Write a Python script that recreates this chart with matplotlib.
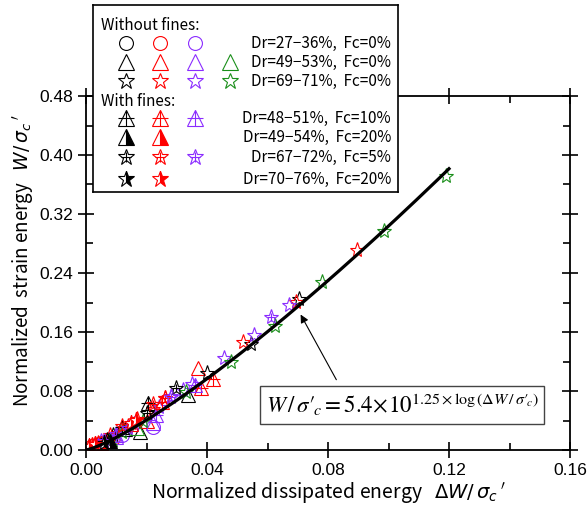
import matplotlib.pyplot as plt
import numpy as np
from matplotlib.ticker import MultipleLocator

# ---- data ----
# open circles, Dr=27-36%, Fc=0%
circ_black_x = [0.003, 0.006]
circ_black_y = [0.004, 0.009]
circ_red_x = [0.002, 0.005, 0.009]
circ_red_y = [0.006, 0.010, 0.016]
circ_purple_x = [0.004, 0.012, 0.022]
circ_purple_y = [0.006, 0.020, 0.031]

# open triangles, Dr=49-53%, Fc=0%
tri_black_x = [0.004, 0.013, 0.018, 0.0336]
tri_black_y = [0.006, 0.028, 0.024, 0.075]
tri_red_x = [0.002, 0.006, 0.020, 0.037]
tri_red_y = [0.005, 0.012, 0.040, 0.111]
tri_purple_x = [0.004, 0.010, 0.022]
tri_purple_y = [0.007, 0.018, 0.036]
tri_green_x = [0.008, 0.017]
tri_green_y = [0.015, 0.030]

# open stars, Dr=69-71%, Fc=0%
star_black_x = [0.002, 0.009, 0.040, 0.0545, 0.0705]
star_black_y = [0.003, 0.020, 0.105, 0.144, 0.205]
star_red_x = [0.003, 0.008, 0.014, 0.022, 0.026, 0.052, 0.0695, 0.0895]
star_red_y = [0.008, 0.020, 0.033, 0.055, 0.070, 0.146, 0.201, 0.271]
star_purple_x = [0.002, 0.005, 0.010, 0.016, 0.024, 0.028, 0.032, 0.035,
                 0.0455, 0.0555, 0.067]
star_purple_y = [0.004, 0.012, 0.022, 0.035, 0.058, 0.073, 0.082, 0.090,
                 0.125, 0.156, 0.196]
star_green_x = [0.005, 0.012, 0.019, 0.033, 0.048, 0.0625, 0.078, 0.0985, 0.119]
star_green_y = [0.008, 0.025, 0.040, 0.078, 0.119, 0.168, 0.228, 0.297, 0.372]

# triangle with cross, Dr=48-51%, Fc=10%
tcr_black_x = [0.003, 0.012, 0.0206]
tcr_black_y = [0.007, 0.031, 0.064]
tcr_red_x = [0.002, 0.006, 0.015, 0.025, 0.038, 0.042]
tcr_red_y = [0.006, 0.012, 0.035, 0.065, 0.084, 0.096]
tcr_purple_x = [0.004, 0.010, 0.023, 0.036]
tcr_purple_y = [0.008, 0.020, 0.048, 0.088]

# half filled triangle, Dr=49-54%, Fc=20%
thf_black_x = [0.003, 0.008]
thf_black_y = [0.006, 0.012]
thf_red_x = [0.001, 0.002, 0.005]
thf_red_y = [0.003, 0.008, 0.010]

# star with cross, Dr=67-72%, Fc=5%
scr_black_x = [0.007, 0.020, 0.0296]
scr_black_y = [0.013, 0.050, 0.084]
scr_red_x = [0.004, 0.012, 0.017, 0.022, 0.026]
scr_red_y = [0.010, 0.032, 0.042, 0.063, 0.071]
scr_purple_x = [0.006, 0.014, 0.028, 0.061]
scr_purple_y = [0.012, 0.030, 0.072, 0.180]

# half filled star, Dr=70-76%, Fc=20%
shf_black_x = [0.001, 0.006]
shf_black_y = [0.004, 0.010]
shf_red_x = [0.001, 0.003, 0.015, 0.0166]
shf_red_y = [0.006, 0.008, 0.037, 0.041]

# fitted curve W = 5.4 * 10^(1.25 log dW)
fit_a = 5.4
fit_b = 1.25
fit_xmax = 0.12

BLACK = 'black'
RED = '#ff0000'
PURPLE = '#8b2cff'
GREEN = '#1a8f1a'

ms = 10
lw = 0.8

fig = plt.figure(figsize=(5.87, 5.12), dpi=100)
ax = fig.add_axes([86 / 587, 62 / 512, 484 / 587, 354 / 512])


def open_pts(a, x, y, marker, color, size=ms):
    a.plot(x, y, linestyle='none', marker=marker, markersize=size,
           markerfacecolor='none', markeredgecolor=color, markeredgewidth=lw)


def cross_pts(a, x, y, marker, color, size=ms, csize=None):
    open_pts(a, x, y, marker, color, size)
    a.plot(x, y, linestyle='none', marker='+', markersize=csize or size,
           markeredgecolor=color, markeredgewidth=lw)


def half_pts(a, x, y, marker, color, size=ms):
    a.plot(x, y, linestyle='none', marker=marker, markersize=size,
           fillstyle='right', markerfacecolor=color, markerfacecoloralt='white',
           markeredgecolor=color, markeredgewidth=lw)


open_pts(ax, circ_black_x, circ_black_y, 'o', BLACK)
open_pts(ax, circ_red_x, circ_red_y, 'o', RED)
open_pts(ax, circ_purple_x, circ_purple_y, 'o', PURPLE)
open_pts(ax, tri_black_x, tri_black_y, '^', BLACK)
open_pts(ax, tri_red_x, tri_red_y, '^', RED)
open_pts(ax, tri_purple_x, tri_purple_y, '^', PURPLE)
open_pts(ax, tri_green_x, tri_green_y, '^', GREEN)
open_pts(ax, star_black_x, star_black_y, '*', BLACK, 11)
open_pts(ax, star_red_x, star_red_y, '*', RED, 11)
open_pts(ax, star_purple_x, star_purple_y, '*', PURPLE, 11)
open_pts(ax, star_green_x, star_green_y, '*', GREEN, 11)
cross_pts(ax, tcr_black_x, tcr_black_y, '^', BLACK)
cross_pts(ax, tcr_red_x, tcr_red_y, '^', RED)
cross_pts(ax, tcr_purple_x, tcr_purple_y, '^', PURPLE)
half_pts(ax, thf_black_x, thf_black_y, '^', BLACK)
half_pts(ax, thf_red_x, thf_red_y, '^', RED)
cross_pts(ax, scr_black_x, scr_black_y, '*', BLACK, 11, 6)
cross_pts(ax, scr_red_x, scr_red_y, '*', RED, 11, 6)
cross_pts(ax, scr_purple_x, scr_purple_y, '*', PURPLE, 11, 6)
half_pts(ax, shf_black_x, shf_black_y, '*', BLACK, 11)
half_pts(ax, shf_red_x, shf_red_y, '*', RED, 11)

xf = np.linspace(0, fit_xmax, 300)
yf = fit_a * 10 ** (fit_b * np.log10(np.where(xf > 0, xf, 1e-12)))
ax.plot(xf, yf, color='black', lw=2.3, zorder=5)

ax.set_xlim(0, 0.16)
ax.set_ylim(0, 0.48)
ax.xaxis.set_major_locator(MultipleLocator(0.04))
ax.xaxis.set_minor_locator(MultipleLocator(0.02))
ax.yaxis.set_major_locator(MultipleLocator(0.08))
ax.yaxis.set_minor_locator(MultipleLocator(0.04))
ax.xaxis.set_major_formatter(plt.FormatStrFormatter('%.2f'))
ax.yaxis.set_major_formatter(plt.FormatStrFormatter('%.2f'))
ax.tick_params(which='major', direction='inout', length=12, width=1.2,
               top=True, right=True, labelsize=12.5)
ax.tick_params(which='minor', direction='in', length=5, width=1.2,
               top=True, right=True)
for lab in ax.get_xticklabels() + ax.get_yticklabels():
    lab.set_family('Liberation Sans')
for s in ax.spines.values():
    s.set_linewidth(1.3)

ax.set_xlabel(r"Normalized dissipated energy   $\Delta W/\,\sigma_c\,'$",
              family='Noto Sans CJK JP', fontsize=14, labelpad=1,
              math_fontfamily='dejavusans')
ax.set_ylabel(r"Normalized  strain energy   $W/\,\sigma_c\,'$",
              family='Noto Sans CJK JP', fontsize=13.5,
              math_fontfamily='dejavusans')
ax.yaxis.set_label_coords(-0.105, 0.535)

ax.annotate('', xy=(0.0705, 0.187), xytext=(0.0832, 0.092),
            arrowprops=dict(arrowstyle='-|>', color='black', lw=0.8,
                            mutation_scale=12))
ax.text(0.653, 0.127,
        r"$W\,/\,\sigma{\prime}_{\!c} = 5.4\!\times\!10^{1.25\times\log\left(\Delta W\,/\,\sigma{\prime}_{\!c}\right)}$",
        transform=ax.transAxes, ha='center', va='center', fontsize=16.5,
        math_fontfamily='stix',
        bbox=dict(boxstyle='square,pad=0.25', facecolor='white',
                  edgecolor='#444444', lw=1.0))

# ---- legend box (pixel layout) ----
lax = fig.add_axes([93 / 587, (512 - 192) / 512, (398 - 93) / 587, (192 - 5) / 512],
                   zorder=10)
lax.set_xlim(93, 398)
lax.set_ylim(192, 5)
lax.set_xticks([])
lax.set_yticks([])
for s in lax.spines.values():
    s.set_linewidth(1.2)

cols = [126, 160, 195, 230]
tf = dict(family='Noto Sans CJK JP', fontsize=11, va='center')
lax.text(101, 25, 'Without fines:', ha='left', **tf)
lax.text(101, 102, 'With fines:', ha='left', **tf)

rows = [
    (43, 'o', 'open', [BLACK, RED, PURPLE], 'Dr=27\u221236%,  Fc=0%'),
    (62, '^', 'open', [BLACK, RED, PURPLE, GREEN], 'Dr=49\u221253%,  Fc=0%'),
    (81, '*', 'open', [BLACK, RED, PURPLE, GREEN], 'Dr=69\u221271%,  Fc=0%'),
    (118, '^', 'cross', [BLACK, RED, PURPLE], 'Dr=48\u221251%,  Fc=10%'),
    (137, '^', 'half', [BLACK, RED], 'Dr=49\u221254%,  Fc=20%'),
    (157, '*', 'cross', [BLACK, RED, PURPLE], 'Dr=67\u221272%,  Fc=5%'),
    (179, '*', 'half', [BLACK, RED], 'Dr=70\u221276%,  Fc=20%'),
]
for yy, mk, kind, colors, label in rows:
    size = 10 if mk == 'o' else 12
    for cx, c in zip(cols, colors):
        if kind == 'open':
            open_pts(lax, [cx], [yy], mk, c, size)
        elif kind == 'cross':
            cross_pts(lax, [cx], [yy], mk, c, size, 7 if mk == '*' else size)
        else:
            half_pts(lax, [cx], [yy], mk, c, size)
    lax.text(391, yy, label, ha='right', **tf)

fig.savefig('out.png', dpi=100)
